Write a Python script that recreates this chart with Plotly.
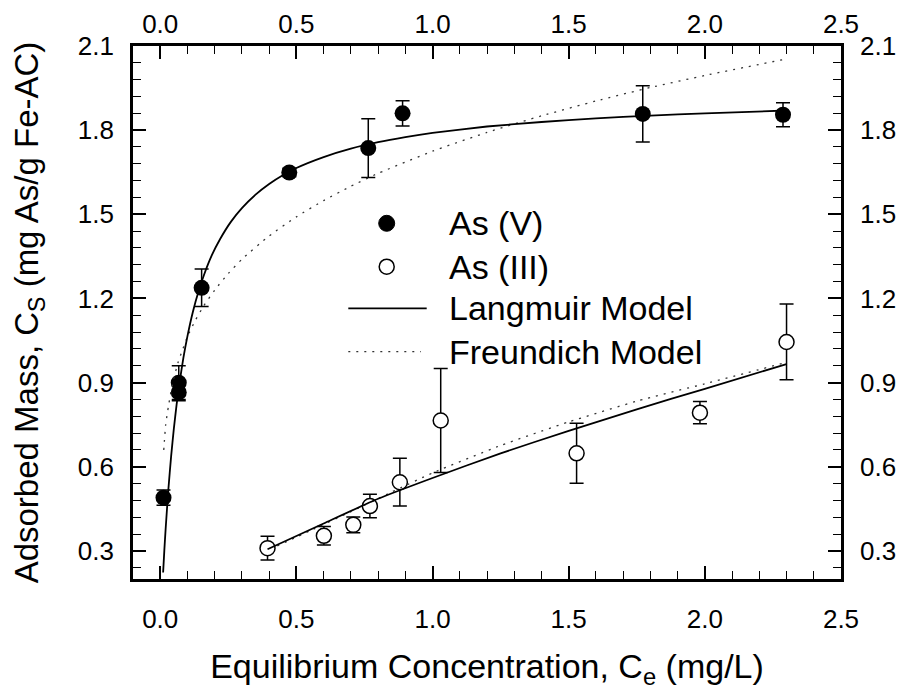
import plotly.graph_objects as go

# ---------------- data ----------------
asv_x = [0.012, 0.068, 0.068, 0.152, 0.474, 0.764, 0.89, 1.772, 2.287]
asv_y = [0.49, 0.90, 0.865, 1.238, 1.649, 1.736, 1.86, 1.858, 1.855]
asv_err = [0.027, 0.06, 0.03, 0.067, 0.015, 0.105, 0.045, 0.10, 0.043]

asiii_x = [0.394, 0.601, 0.709, 0.770, 0.88, 1.03, 1.529, 1.982, 2.30]
asiii_y = [0.31, 0.354, 0.393, 0.46, 0.545, 0.765, 0.648, 0.793, 1.045]
asiii_err = [0.042, 0.033, 0.028, 0.042, 0.085, 0.185, 0.107, 0.04, 0.135]

lang_v_x = [0.0106, 0.015, 0.02, 0.03, 0.04, 0.05, 0.06, 0.07, 0.085, 0.1, 0.12, 0.14,
            0.16, 0.19, 0.22, 0.26, 0.3, 0.35, 0.4, 0.45, 0.5, 0.6, 0.7, 0.8, 0.9,
            1.0, 1.2, 1.4, 1.6, 1.8, 2.0, 2.3]
lang_v_y = [0.223, 0.301, 0.381, 0.521, 0.637, 0.736, 0.821, 0.894, 0.988, 1.066, 1.153, 1.223,
            1.282, 1.355, 1.412, 1.474, 1.522, 1.570, 1.608, 1.639, 1.665, 1.704, 1.734, 1.757, 1.775,
            1.790, 1.813, 1.829, 1.842, 1.852, 1.860, 1.870]

freu_v_x = [0.013, 0.02, 0.03, 0.04, 0.05, 0.065, 0.08, 0.1, 0.13, 0.16, 0.2, 0.25,
            0.3, 0.4, 0.5, 0.6, 0.7, 0.8, 1.0, 1.2, 1.4, 1.6, 1.8, 2.0, 2.3]
freu_v_y = [0.66, 0.75, 0.815, 0.87, 0.915, 0.97, 1.012, 1.064, 1.124, 1.174, 1.230, 1.289,
            1.340, 1.423, 1.491, 1.549, 1.600, 1.646, 1.725, 1.792, 1.851, 1.904, 1.952, 1.995, 2.054]

lang_iii_x = [0.394, 0.6, 0.8, 1.0, 1.25, 1.5, 1.75, 2.0, 2.3]
lang_iii_y = [0.306, 0.398, 0.486, 0.560, 0.648, 0.728, 0.805, 0.878, 0.966]

freu_iii_x = [0.43, 0.55, 0.7, 0.85, 1.0, 1.25, 1.5, 1.75, 2.0, 2.3]
freu_iii_y = [0.318, 0.372, 0.44, 0.51, 0.578, 0.676, 0.76, 0.834, 0.896, 0.972]

legend_labels = ["As (V)", "As (III)", "Langmuir Model", "Freundich Model"]

x_title = "Equilibrium Concentration, C<sub>e</sub> (mg/L)"
y_title = "Adsorbed Mass, C<sub>S</sub> (mg As/g Fe-AC)"

x_range = [-0.1, 2.5]
y_range = [0.2, 2.1]

# ---------------- style ----------------
FONT = "Liberation Sans, Arial, Helvetica, sans-serif"
W, H = 901, 693
ML, MR, MT, MB = 133, 60, 46, 114
DOT = "2px,6px"
DOTCOLOR = "#333333"

fig = go.Figure()

err_style = dict(type="data", visible=True, color="black", thickness=1.5, width=7)

fig.add_trace(go.Scatter(
    x=asv_x, y=asv_y, mode="markers", name=legend_labels[0], showlegend=False,
    marker=dict(symbol="circle", size=16, color="black", line=dict(width=0)),
    error_y=dict(array=asv_err, **err_style)))

fig.add_trace(go.Scatter(
    x=asiii_x, y=asiii_y, mode="markers", name=legend_labels[1], showlegend=False,
    marker=dict(symbol="circle", size=15, color="white", line=dict(width=1.5, color="black")),
    error_y=dict(array=asiii_err, **err_style)))

fig.add_trace(go.Scatter(
    x=freu_v_x, y=freu_v_y, mode="lines", name=legend_labels[3], showlegend=False,
    line=dict(color=DOTCOLOR, width=1.3, dash=DOT, shape="spline", smoothing=0.5)))
fig.add_trace(go.Scatter(
    x=freu_iii_x, y=freu_iii_y, mode="lines", name=legend_labels[3], showlegend=False,
    line=dict(color=DOTCOLOR, width=1.3, dash=DOT, shape="spline", smoothing=0.5)))

fig.add_trace(go.Scatter(
    x=lang_v_x, y=lang_v_y, mode="lines", name=legend_labels[2], showlegend=False,
    line=dict(color="black", width=1.8, shape="spline", smoothing=0.5)))
fig.add_trace(go.Scatter(
    x=lang_iii_x, y=lang_iii_y, mode="lines", name=legend_labels[2], showlegend=False,
    line=dict(color="black", width=1.8, shape="spline", smoothing=0.5)))

# invisible trace so that the mirrored top/right axes get drawn
fig.add_trace(go.Scatter(x=[x_range[0]], y=[y_range[0]], xaxis="x2", yaxis="y2",
                         mode="markers", marker=dict(opacity=0),
                         showlegend=False, hoverinfo="skip"))

tickfont = dict(family=FONT, size=26, color="black")

common_x = dict(range=x_range, tick0=0, dtick=0.5, tickformat=".1f",
                ticks="inside", ticklen=13, tickwidth=1.6, tickcolor="black",
                minor=dict(ticks="inside", ticklen=8, tickwidth=1.4, tick0=0, dtick=0.1,
                           tickcolor="black"),
                showline=True, linewidth=2.6, linecolor="black",
                showgrid=False, zeroline=False, tickfont=tickfont,
                automargin=False)
common_y = dict(range=y_range, tick0=0.3, dtick=0.3, tickformat=".1f",
                ticks="inside", ticklen=13, tickwidth=1.6, tickcolor="black",
                minor=dict(ticks="inside", ticklen=8, tickwidth=1.4, tick0=0.3, dtick=0.06,
                           tickcolor="black"),
                showline=True, linewidth=2.6, linecolor="black",
                showgrid=False, zeroline=False, tickfont=tickfont,
                automargin=False, ticklabelstandoff=11)

fig.update_layout(
    width=W, height=H,
    margin=dict(l=ML, r=MR, t=MT, b=MB),
    paper_bgcolor="white", plot_bgcolor="white",
    font=dict(family=FONT, color="black"),
    showlegend=False,
    xaxis=dict(**common_x, side="bottom", ticklabelstandoff=15,
               title=dict(text=x_title, font=dict(family=FONT, size=34), standoff=22)),
    xaxis2=dict(**common_x, side="top", overlaying="x", ticklabelstandoff=0),
    yaxis=dict(**common_y, side="left",
               title=dict(text=y_title, font=dict(family=FONT, size=33), standoff=30)),
    yaxis2=dict(**common_y, side="right", overlaying="y"),
)

# ---------------- legend drawn inside the plot ----------------
pw, ph = W - ML - MR, H - MT - MB
def px(x):
    return (x - ML) / pw
def py(y):
    return 1 - (y - MT) / ph

rows = [223.3, 266.7, 308.3, 351.7]
sym_x = 386.7
text_x = 446.7

fig.add_shape(type="circle", xref="paper", yref="paper", xsizemode="pixel", ysizemode="pixel",
              xanchor=px(sym_x), yanchor=py(rows[0]), x0=-8, x1=8, y0=-8, y1=8,
              fillcolor="black", line=dict(color="black", width=1))
fig.add_shape(type="circle", xref="paper", yref="paper", xsizemode="pixel", ysizemode="pixel",
              xanchor=px(sym_x), yanchor=py(rows[1]), x0=-7.5, x1=7.5, y0=-7.5, y1=7.5,
              fillcolor="white", line=dict(color="black", width=1.5))
fig.add_shape(type="line", xref="paper", yref="paper",
              x0=px(348.3), x1=px(426.7), y0=py(rows[2]), y1=py(rows[2]),
              line=dict(color="black", width=1.8))
fig.add_shape(type="line", xref="paper", yref="paper",
              x0=px(348.3), x1=px(421), y0=py(rows[3]), y1=py(rows[3]),
              line=dict(color=DOTCOLOR, width=1.3, dash=DOT))

for lbl, ry in zip(legend_labels, rows):
    fig.add_annotation(text=lbl, xref="paper", yref="paper", x=px(text_x), y=py(ry),
                       xanchor="left", yanchor="middle", showarrow=False,
                       font=dict(family=FONT, size=34, color="black"))

fig.write_html("out.html")
